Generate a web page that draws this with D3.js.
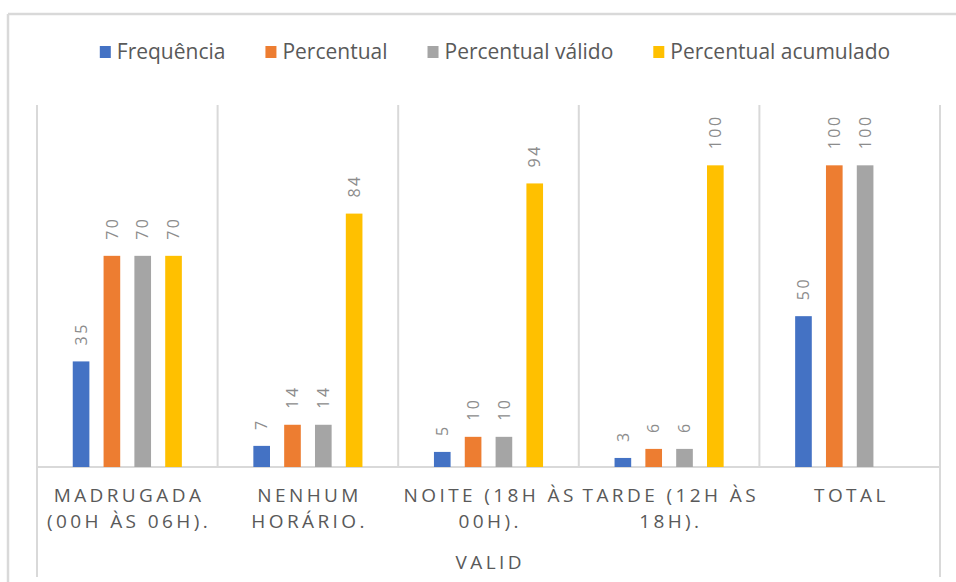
<!DOCTYPE html>
<html>
<head>
<meta charset="utf-8">
<script src="https://cdn.jsdelivr.net/npm/d3@7"></script>
<style>
    body { margin: 0; background: #fff; }
    text { font-family: "Open Sans", sans-serif; }
</style>
</head>
<body>
<div id="chart"></div>
<script>
// categories (each split in its two printed lines)
let categories = ['MADRUGADA (00H ÀS 06H).', 'NENHUM HORÁRIO.', 'NOITE (18H ÀS 00H).', 'TARDE (12H ÀS 18H).', 'TOTAL'];
let categoryLines = [
    ['MADRUGADA', '(00H ÀS 06H).'],
    ['NENHUM', 'HORÁRIO.'],
    ['NOITE (18H ÀS', '00H).'],
    ['TARDE (12H ÀS', '18H).'],
    ['TOTAL']
];
let axisTitle = 'VALID';

let seriesNames = ['Frequência', 'Percentual', 'Percentual válido', 'Percentual acumulado'];
let frequencia = [35, 7, 5, 3, 50];
let percentual = [70, 14, 10, 6, 100];
let percentualValido = [70, 14, 10, 6, 100];
let percentualAcumulado = [70, 84, 94, 100, null];
let colors = ['#4472c4', '#ed7d31', '#a5a5a5', '#ffc000'];

let seriesValues = [frequencia, percentual, percentualValido, percentualAcumulado];

let width = 956,
    height = 582,
    plot = {left: 37, right: 940, top: 105, bottom: 467},
    lineColor = '#d9d9d9';

let svg = d3.select('#chart').append('svg')
    .attr('width', width)
    .attr('height', height);

// outer chart frame (top and left edges visible)
svg.append('line')
    .attr('x1', 8).attr('x2', width)
    .attr('y1', 14).attr('y2', 14)
    .attr('stroke', lineColor).attr('stroke-width', 2.5);
svg.append('line')
    .attr('x1', 8).attr('x2', 8)
    .attr('y1', 14).attr('y2', height)
    .attr('stroke', lineColor).attr('stroke-width', 2.5);

let x0 = d3.scaleBand()
    .domain(categories)
    .range([plot.left, plot.right])
    .padding(0);

let x1 = d3.scaleBand()
    .domain(seriesNames)
    .range([0, x0.bandwidth()])
    .paddingInner(0.46)
    .paddingOuter(1.16);

let y = d3.scaleLinear()
    .domain([0, 120])
    .range([plot.bottom, plot.top]);

// category dividers
let bounds = categories.map(c => x0(c)).concat([plot.right]);
svg.append('g').attr('class', 'dividers')
    .selectAll('line')
    .data(bounds)
    .join('line')
    .attr('x1', d => d).attr('x2', d => d)
    .attr('y1', plot.top)
    .attr('y2', (d, i) => (i === 0 || i === bounds.length - 1) ? 577 : plot.bottom)
    .attr('stroke', lineColor)
    .attr('stroke-width', 2);

// baseline
svg.append('line')
    .attr('x1', plot.left).attr('x2', plot.right)
    .attr('y1', plot.bottom).attr('y2', plot.bottom)
    .attr('stroke', lineColor)
    .attr('stroke-width', 2);

let rows = [];
categories.forEach((c, i) => {
    seriesNames.forEach((s, j) => {
        let v = seriesValues[j][i];
        if (v !== null) rows.push({cat: c, series: s, value: v, color: colors[j]});
    });
});

let bars_g = svg.append('g').attr('class', 'bars');

bars_g.selectAll('rect')
    .data(rows)
    .join('rect')
    .attr('x', d => x0(d.cat) + x1(d.series))
    .attr('y', d => y(d.value))
    .attr('width', x1.bandwidth())
    .attr('height', d => y(0) - y(d.value))
    .attr('fill', d => d.color);

bars_g.selectAll('text')
    .data(rows)
    .join('text')
    .attr('transform', d => `translate(${x0(d.cat) + x1(d.series) + x1.bandwidth() / 2}, ${y(d.value) - 16}) rotate(-90)`)
    .attr('dy', '0.36em')
    .attr('text-anchor', 'start')
    .attr('font-size', 16)
    .attr('letter-spacing', 2.5)
    .attr('fill', '#8c8c8c')
    .text(d => d.value);

// category labels
let cat_g = svg.append('g').attr('class', 'cat-labels');
categories.forEach((c, i) => {
    let cx = x0(c) + x0.bandwidth() / 2;
    cat_g.append('text')
        .attr('x', cx + 1.7)
        .attr('y', 502)
        .attr('text-anchor', 'middle')
        .attr('font-size', 19)
        .attr('letter-spacing', 3.4)
        .attr('fill', '#595959')
        .selectAll('tspan')
        .data(categoryLines[i])
        .join('tspan')
        .attr('x', cx + 1.7)
        .attr('dy', (d, k) => k === 0 ? 0 : 26)
        .text(d => d);
});

svg.append('text')
    .attr('x', (plot.left + plot.right) / 2 + 1.7)
    .attr('y', 569)
    .attr('text-anchor', 'middle')
    .attr('font-size', 19)
    .attr('letter-spacing', 3.4)
    .attr('fill', '#595959')
    .text(axisTitle);

// legend
let legend_g = svg.append('g').attr('class', 'legend');
let lx = 0;
seriesNames.forEach((s, j) => {
    let item = legend_g.append('g').attr('transform', `translate(${lx}, 0)`);
    item.append('rect')
        .attr('x', 0).attr('y', 46)
        .attr('width', 11).attr('height', 12)
        .attr('fill', colors[j]);
    let t = item.append('text')
        .attr('x', 17).attr('y', 59)
        .attr('font-size', 21)
        .attr('fill', '#595959')
        .text(s);
    lx += 17 + t.node().getComputedTextLength() + 40;
});
let legendWidth = lx - 40;
legend_g.attr('transform', `translate(${495 - legendWidth / 2}, 0)`);
</script>
</body>
</html>
